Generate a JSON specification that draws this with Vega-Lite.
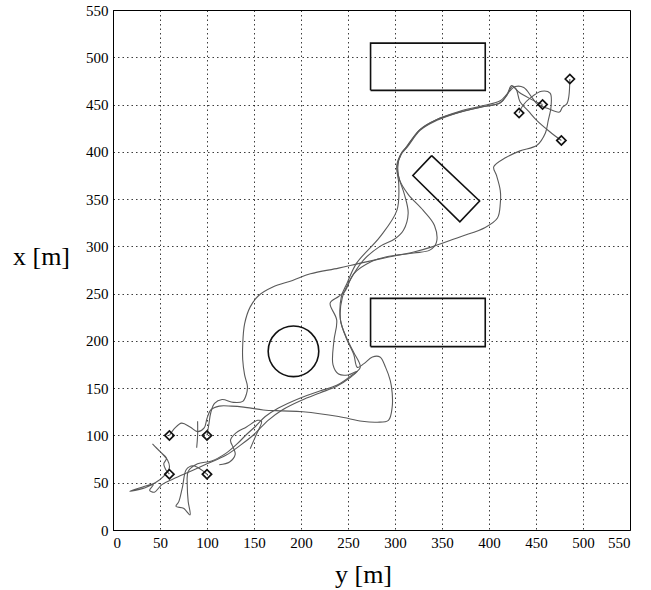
{
  "$schema": "https://vega.github.io/schema/vega-lite/v6.json",
  "width": 517,
  "height": 520,
  "autosize": "none",
  "padding": {"left": 113, "top": 10, "right": 21, "bottom": 60},
  "background": "white",
  "datasets": {
    "obstacles": [
      {"id": "r1", "o": 0, "y": 274, "x": 465}, {"id": "r1", "o": 1, "y": 396, "x": 465},
      {"id": "r1", "o": 2, "y": 396, "x": 515}, {"id": "r1", "o": 3, "y": 274, "x": 515},
      {"id": "r1", "o": 4, "y": 274, "x": 465},
      {"id": "r2", "o": 0, "y": 274, "x": 194}, {"id": "r2", "o": 1, "y": 396, "x": 194},
      {"id": "r2", "o": 2, "y": 396, "x": 245}, {"id": "r2", "o": 3, "y": 274, "x": 245},
      {"id": "r2", "o": 4, "y": 274, "x": 194},
      {"id": "r3", "o": 0, "y": 339, "x": 396}, {"id": "r3", "o": 1, "y": 390, "x": 348},
      {"id": "r3", "o": 2, "y": 369, "x": 326}, {"id": "r3", "o": 3, "y": 319, "x": 375},
      {"id": "r3", "o": 4, "y": 339, "x": 396}
    ],
    "circle": [{"y": 192, "x": 189}],
    "markers": [
      {"kind": "start", "y": 60, "x": 100}, {"kind": "start", "y": 100, "x": 100},
      {"kind": "start", "y": 60, "x": 59}, {"kind": "start", "y": 100, "x": 59},
      {"kind": "end", "y": 486, "x": 477}, {"kind": "end", "y": 457, "x": 450},
      {"kind": "end", "y": 432, "x": 441}, {"kind": "end", "y": 477, "x": 412}
    ],
    "paths": [
      {"t": 1, "o": 0, "y": 100, "x": 100}, {"t": 1, "o": 1, "y": 102, "x": 112},
      {"t": 1, "o": 2, "y": 104, "x": 124}, {"t": 1, "o": 3, "y": 108, "x": 134},
      {"t": 1, "o": 4, "y": 116, "x": 138}, {"t": 1, "o": 5, "y": 128, "x": 135},
      {"t": 1, "o": 6, "y": 138, "x": 136}, {"t": 1, "o": 7, "y": 142, "x": 144},
      {"t": 1, "o": 8, "y": 143, "x": 152}, {"t": 1, "o": 9, "y": 140, "x": 164},
      {"t": 1, "o": 10, "y": 138, "x": 180}, {"t": 1, "o": 11, "y": 138, "x": 196},
      {"t": 1, "o": 12, "y": 140, "x": 218}, {"t": 1, "o": 13, "y": 146, "x": 236},
      {"t": 1, "o": 14, "y": 155, "x": 248}, {"t": 1, "o": 15, "y": 170, "x": 257},
      {"t": 1, "o": 16, "y": 191, "x": 264}, {"t": 1, "o": 17, "y": 210, "x": 271},
      {"t": 1, "o": 18, "y": 240, "x": 277}, {"t": 1, "o": 19, "y": 262, "x": 282},
      {"t": 1, "o": 20, "y": 290, "x": 288}, {"t": 1, "o": 21, "y": 320, "x": 294},
      {"t": 1, "o": 22, "y": 341, "x": 300}, {"t": 1, "o": 23, "y": 369, "x": 310},
      {"t": 1, "o": 24, "y": 396, "x": 320}, {"t": 1, "o": 25, "y": 409, "x": 330},
      {"t": 1, "o": 26, "y": 412, "x": 345}, {"t": 1, "o": 27, "y": 412, "x": 359},
      {"t": 1, "o": 28, "y": 408, "x": 375}, {"t": 1, "o": 29, "y": 405, "x": 384},
      {"t": 1, "o": 30, "y": 418, "x": 394}, {"t": 1, "o": 31, "y": 433, "x": 401},
      {"t": 1, "o": 32, "y": 451, "x": 407}, {"t": 1, "o": 33, "y": 460, "x": 420},
      {"t": 1, "o": 34, "y": 463, "x": 433}, {"t": 1, "o": 35, "y": 466, "x": 448},
      {"t": 1, "o": 36, "y": 465, "x": 462}, {"t": 1, "o": 37, "y": 456, "x": 464},
      {"t": 1, "o": 38, "y": 444, "x": 457}, {"t": 1, "o": 39, "y": 436, "x": 449},
      {"t": 1, "o": 40, "y": 432, "x": 441},

      {"t": 2, "o": 0, "y": 60, "x": 100}, {"t": 2, "o": 1, "y": 66, "x": 108},
      {"t": 2, "o": 2, "y": 73, "x": 113}, {"t": 2, "o": 3, "y": 82, "x": 109},
      {"t": 2, "o": 4, "y": 90, "x": 104}, {"t": 2, "o": 5, "y": 97, "x": 108},
      {"t": 2, "o": 6, "y": 100, "x": 118}, {"t": 2, "o": 7, "y": 104, "x": 127},
      {"t": 2, "o": 8, "y": 113, "x": 131}, {"t": 2, "o": 9, "y": 126, "x": 131},
      {"t": 2, "o": 10, "y": 139, "x": 130}, {"t": 2, "o": 11, "y": 160, "x": 127},
      {"t": 2, "o": 12, "y": 180, "x": 126}, {"t": 2, "o": 13, "y": 202, "x": 125},
      {"t": 2, "o": 14, "y": 240, "x": 120}, {"t": 2, "o": 15, "y": 265, "x": 115},
      {"t": 2, "o": 16, "y": 281, "x": 114}, {"t": 2, "o": 17, "y": 293, "x": 116},
      {"t": 2, "o": 18, "y": 297, "x": 130}, {"t": 2, "o": 19, "y": 297, "x": 145},
      {"t": 2, "o": 20, "y": 295, "x": 158}, {"t": 2, "o": 21, "y": 290, "x": 172},
      {"t": 2, "o": 22, "y": 284, "x": 183}, {"t": 2, "o": 23, "y": 276, "x": 183},
      {"t": 2, "o": 24, "y": 267, "x": 176}, {"t": 2, "o": 25, "y": 260, "x": 172},
      {"t": 2, "o": 26, "y": 256, "x": 186}, {"t": 2, "o": 27, "y": 249, "x": 201},
      {"t": 2, "o": 28, "y": 242, "x": 222}, {"t": 2, "o": 29, "y": 243, "x": 247},
      {"t": 2, "o": 30, "y": 249, "x": 261}, {"t": 2, "o": 31, "y": 259, "x": 282},
      {"t": 2, "o": 32, "y": 284, "x": 310}, {"t": 2, "o": 33, "y": 302, "x": 338},
      {"t": 2, "o": 34, "y": 304, "x": 366}, {"t": 2, "o": 35, "y": 302, "x": 384},
      {"t": 2, "o": 36, "y": 307, "x": 398}, {"t": 2, "o": 37, "y": 313, "x": 405},
      {"t": 2, "o": 38, "y": 327, "x": 423}, {"t": 2, "o": 39, "y": 344, "x": 433},
      {"t": 2, "o": 40, "y": 369, "x": 442}, {"t": 2, "o": 41, "y": 390, "x": 447},
      {"t": 2, "o": 42, "y": 412, "x": 452}, {"t": 2, "o": 43, "y": 419, "x": 460},
      {"t": 2, "o": 44, "y": 424, "x": 470}, {"t": 2, "o": 45, "y": 432, "x": 463},
      {"t": 2, "o": 46, "y": 444, "x": 456}, {"t": 2, "o": 47, "y": 452, "x": 452},
      {"t": 2, "o": 48, "y": 457, "x": 450},

      {"t": 3, "o": 0, "y": 60, "x": 59}, {"t": 3, "o": 1, "y": 56, "x": 64},
      {"t": 3, "o": 2, "y": 54, "x": 70}, {"t": 3, "o": 3, "y": 57, "x": 76},
      {"t": 3, "o": 4, "y": 51, "x": 82}, {"t": 3, "o": 5, "y": 45, "x": 88},
      {"t": 3, "o": 6, "y": 42, "x": 91}, {"t": 3, "o": 7, "y": 46, "x": 87},
      {"t": 3, "o": 8, "y": 52, "x": 81}, {"t": 3, "o": 9, "y": 58, "x": 74},
      {"t": 3, "o": 10, "y": 60, "x": 66}, {"t": 3, "o": 11, "y": 54, "x": 57},
      {"t": 3, "o": 12, "y": 45, "x": 50}, {"t": 3, "o": 13, "y": 33, "x": 46},
      {"t": 3, "o": 14, "y": 18, "x": 41}, {"t": 3, "o": 15, "y": 32, "x": 44},
      {"t": 3, "o": 16, "y": 43, "x": 48}, {"t": 3, "o": 17, "y": 39, "x": 42},
      {"t": 3, "o": 18, "y": 44, "x": 40}, {"t": 3, "o": 19, "y": 52, "x": 48},
      {"t": 3, "o": 20, "y": 64, "x": 54}, {"t": 3, "o": 21, "y": 82, "x": 62},
      {"t": 3, "o": 22, "y": 100, "x": 70}, {"t": 3, "o": 23, "y": 120, "x": 79},
      {"t": 3, "o": 24, "y": 136, "x": 90}, {"t": 3, "o": 25, "y": 150, "x": 101},
      {"t": 3, "o": 26, "y": 165, "x": 116}, {"t": 3, "o": 27, "y": 180, "x": 127},
      {"t": 3, "o": 28, "y": 200, "x": 137}, {"t": 3, "o": 29, "y": 220, "x": 145},
      {"t": 3, "o": 30, "y": 238, "x": 152}, {"t": 3, "o": 31, "y": 252, "x": 161},
      {"t": 3, "o": 32, "y": 260, "x": 168}, {"t": 3, "o": 33, "y": 250, "x": 164},
      {"t": 3, "o": 34, "y": 240, "x": 165}, {"t": 3, "o": 35, "y": 234, "x": 175},
      {"t": 3, "o": 36, "y": 235, "x": 200}, {"t": 3, "o": 37, "y": 238, "x": 222},
      {"t": 3, "o": 38, "y": 231, "x": 240}, {"t": 3, "o": 39, "y": 240, "x": 247},
      {"t": 3, "o": 40, "y": 247, "x": 253}, {"t": 3, "o": 41, "y": 256, "x": 271},
      {"t": 3, "o": 42, "y": 275, "x": 284}, {"t": 3, "o": 43, "y": 291, "x": 289},
      {"t": 3, "o": 44, "y": 320, "x": 293}, {"t": 3, "o": 45, "y": 337, "x": 296},
      {"t": 3, "o": 46, "y": 344, "x": 304}, {"t": 3, "o": 47, "y": 342, "x": 322},
      {"t": 3, "o": 48, "y": 330, "x": 338}, {"t": 3, "o": 49, "y": 314, "x": 355},
      {"t": 3, "o": 50, "y": 305, "x": 370}, {"t": 3, "o": 51, "y": 303, "x": 384},
      {"t": 3, "o": 52, "y": 306, "x": 397}, {"t": 3, "o": 53, "y": 312, "x": 405},
      {"t": 3, "o": 54, "y": 326, "x": 423}, {"t": 3, "o": 55, "y": 344, "x": 434},
      {"t": 3, "o": 56, "y": 369, "x": 443}, {"t": 3, "o": 57, "y": 390, "x": 448},
      {"t": 3, "o": 58, "y": 412, "x": 454}, {"t": 3, "o": 59, "y": 420, "x": 462},
      {"t": 3, "o": 60, "y": 428, "x": 469}, {"t": 3, "o": 61, "y": 437, "x": 468},
      {"t": 3, "o": 62, "y": 446, "x": 457}, {"t": 3, "o": 63, "y": 452, "x": 450},
      {"t": 3, "o": 64, "y": 462, "x": 446}, {"t": 3, "o": 65, "y": 475, "x": 442},
      {"t": 3, "o": 66, "y": 478, "x": 447}, {"t": 3, "o": 67, "y": 483, "x": 451},
      {"t": 3, "o": 68, "y": 485, "x": 459}, {"t": 3, "o": 69, "y": 486, "x": 477},

      {"t": 4, "o": 0, "y": 100, "x": 59}, {"t": 4, "o": 1, "y": 92, "x": 65},
      {"t": 4, "o": 2, "y": 85, "x": 68}, {"t": 4, "o": 3, "y": 78, "x": 64},
      {"t": 4, "o": 4, "y": 74, "x": 46}, {"t": 4, "o": 5, "y": 70, "x": 30},
      {"t": 4, "o": 6, "y": 67, "x": 25}, {"t": 4, "o": 7, "y": 75, "x": 23},
      {"t": 4, "o": 8, "y": 82, "x": 16}, {"t": 4, "o": 9, "y": 80, "x": 30},
      {"t": 4, "o": 10, "y": 79, "x": 48}, {"t": 4, "o": 11, "y": 80, "x": 62},
      {"t": 4, "o": 12, "y": 90, "x": 70}, {"t": 4, "o": 13, "y": 105, "x": 73},
      {"t": 4, "o": 14, "y": 120, "x": 81}, {"t": 4, "o": 15, "y": 132, "x": 91},
      {"t": 4, "o": 16, "y": 142, "x": 101}, {"t": 4, "o": 17, "y": 152, "x": 110},
      {"t": 4, "o": 18, "y": 162, "x": 120}, {"t": 4, "o": 19, "y": 176, "x": 129},
      {"t": 4, "o": 20, "y": 200, "x": 140}, {"t": 4, "o": 21, "y": 220, "x": 147},
      {"t": 4, "o": 22, "y": 238, "x": 153}, {"t": 4, "o": 23, "y": 253, "x": 163},
      {"t": 4, "o": 24, "y": 263, "x": 172}, {"t": 4, "o": 25, "y": 256, "x": 188},
      {"t": 4, "o": 26, "y": 249, "x": 202}, {"t": 4, "o": 27, "y": 242, "x": 222},
      {"t": 4, "o": 28, "y": 244, "x": 246}, {"t": 4, "o": 29, "y": 251, "x": 262},
      {"t": 4, "o": 30, "y": 266, "x": 285}, {"t": 4, "o": 31, "y": 284, "x": 300},
      {"t": 4, "o": 32, "y": 300, "x": 308}, {"t": 4, "o": 33, "y": 309, "x": 317},
      {"t": 4, "o": 34, "y": 314, "x": 335}, {"t": 4, "o": 35, "y": 310, "x": 355},
      {"t": 4, "o": 36, "y": 304, "x": 373}, {"t": 4, "o": 37, "y": 302, "x": 386},
      {"t": 4, "o": 38, "y": 307, "x": 399}, {"t": 4, "o": 39, "y": 313, "x": 406},
      {"t": 4, "o": 40, "y": 327, "x": 424}, {"t": 4, "o": 41, "y": 344, "x": 434},
      {"t": 4, "o": 42, "y": 369, "x": 442}, {"t": 4, "o": 43, "y": 390, "x": 447},
      {"t": 4, "o": 44, "y": 412, "x": 452}, {"t": 4, "o": 45, "y": 419, "x": 460},
      {"t": 4, "o": 46, "y": 425, "x": 469}, {"t": 4, "o": 47, "y": 429, "x": 466},
      {"t": 4, "o": 48, "y": 433, "x": 453}, {"t": 4, "o": 49, "y": 442, "x": 443},
      {"t": 4, "o": 50, "y": 451, "x": 433}, {"t": 4, "o": 51, "y": 465, "x": 421},
      {"t": 4, "o": 52, "y": 477, "x": 412},

      {"t": 5, "o": 0, "y": 113, "x": 69}, {"t": 5, "o": 1, "y": 124, "x": 72},
      {"t": 5, "o": 2, "y": 130, "x": 80}, {"t": 5, "o": 3, "y": 128, "x": 87},
      {"t": 5, "o": 4, "y": 125, "x": 95}, {"t": 5, "o": 5, "y": 130, "x": 102},
      {"t": 5, "o": 6, "y": 142, "x": 109}, {"t": 5, "o": 7, "y": 154, "x": 116},
      {"t": 5, "o": 8, "y": 158, "x": 115}, {"t": 5, "o": 9, "y": 152, "x": 100},
      {"t": 5, "o": 10, "y": 146, "x": 86},

      {"t": 6, "o": 0, "y": 89, "x": 87}, {"t": 6, "o": 1, "y": 90, "x": 100},
      {"t": 6, "o": 2, "y": 90, "x": 115}
    ]
  },
  "layer": [
    {
      "data": {"name": "obstacles"},
      "mark": {"type": "line", "color": "#111", "strokeWidth": 1.6},
      "encoding": {
        "x": {"field": "y", "type": "quantitative", "title": "y [m]",
              "scale": {"domain": [0, 550], "nice": false},
              "axis": {"values": [0, 50, 100, 150, 200, 250, 300, 350, 400, 450, 500, 550],
                       "titleX": 250, "titleY": 44, "titleBaseline": "middle"}},
        "y": {"field": "x", "type": "quantitative", "title": "x [m]",
              "scale": {"domain": [0, 550], "nice": false},
              "axis": {"values": [0, 50, 100, 150, 200, 250, 300, 350, 400, 450, 500, 550],
                       "titleAngle": 0, "titleX": -72, "titleY": 246,
                       "titleAlign": "center", "titleBaseline": "middle"}},
        "detail": {"field": "id"},
        "order": {"field": "o"}
      }
    },
    {
      "data": {"name": "circle"},
      "mark": {"type": "point", "shape": "circle", "size": 2560, "filled": false,
               "stroke": "#111", "strokeWidth": 1.6, "opacity": 1},
      "encoding": {
        "x": {"field": "y", "type": "quantitative", "title": "y [m]"},
        "y": {"field": "x", "type": "quantitative", "title": "x [m]"}
      }
    },
    {
      "data": {"name": "paths"},
      "mark": {"type": "line", "color": "#5a5a5a", "strokeWidth": 1.1, "interpolate": "catmull-rom"},
      "encoding": {
        "x": {"field": "y", "type": "quantitative", "title": "y [m]"},
        "y": {"field": "x", "type": "quantitative", "title": "x [m]"},
        "detail": {"field": "t"},
        "order": {"field": "o"}
      }
    },
    {
      "data": {"name": "markers"},
      "mark": {"type": "point", "shape": "diamond", "size": 85, "filled": false,
               "stroke": "#111", "strokeWidth": 1.7, "opacity": 1},
      "encoding": {
        "x": {"field": "y", "type": "quantitative", "title": "y [m]"},
        "y": {"field": "x", "type": "quantitative", "title": "x [m]"}
      }
    }
  ],
  "config": {
    "view": {"stroke": "#000", "strokeWidth": 1},
    "axis": {
      "labelFont": "Liberation Serif", "labelFontSize": 15, "labelColor": "#000",
      "titleFont": "Liberation Serif", "titleFontSize": 26, "titleFontWeight": "normal", "titleColor": "#000",
      "grid": true, "gridColor": "#000", "gridDash": [1.5, 3], "gridOpacity": 0.85, "gridWidth": 0.9,
      "domainColor": "#000", "domainWidth": 1, "ticks": false, "labelPadding": 5
    }
  }
}
